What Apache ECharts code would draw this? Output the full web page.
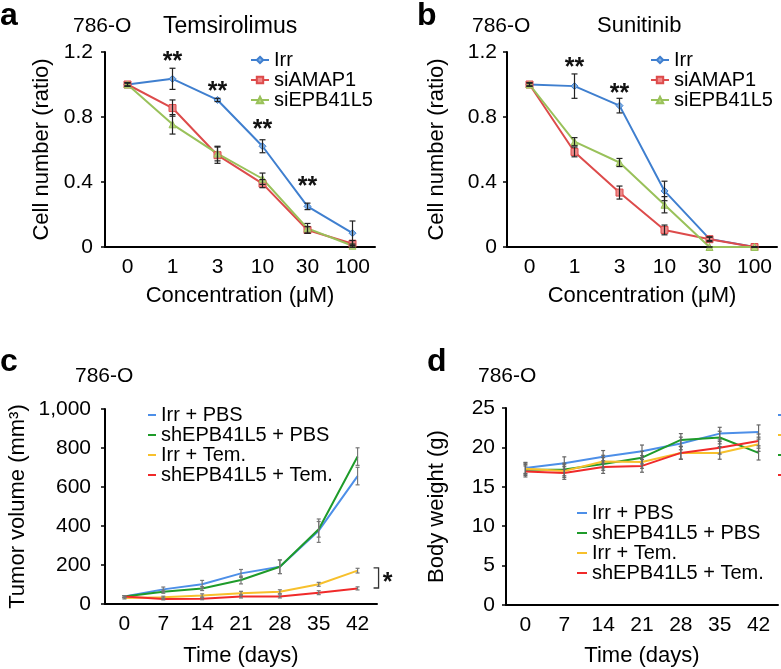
<!DOCTYPE html>
<html>
<head>
<meta charset="utf-8">
<script src="https://cdn.jsdelivr.net/npm/echarts@6/dist/echarts.min.js"></script>
<style>
    html, body { margin: 0; padding: 0; background: #fff; }
    #main { width: 781px; height: 669px; }
</style>
</head>
<body>
<div id="main"></div>
<script>
const concentrations = ['0', '1', '3', '10', '30', '100']
const days = ['0', '7', '14', '21', '28', '35', '42']

// a: Temsirolimus
const temIrr = [1.0, 1.035, 0.905, 0.62, 0.25, 0.085]
const temIrrErr = [0.01, 0.065, 0.01, 0.04, 0.02, 0.075]
const temAmap = [1.0, 0.855, 0.565, 0.39, 0.105, 0.02]
const temAmapErr = [0.01, 0.05, 0.05, 0.025, 0.02, 0.02]
const temEpb = [1.0, 0.755, 0.575, 0.42, 0.115, 0.008]
const temEpbErr = [0.01, 0.06, 0.045, 0.035, 0.03, 0.01]
const temStars = [[1, 1.17], [2, 0.985], [3, 0.75], [4, 0.40]]

// b: Sunitinib
const sunIrr = [1.0, 0.99, 0.87, 0.345, 0.05, 0.0]
const sunIrrErr = [0.01, 0.075, 0.045, 0.06, 0.01, 0.0]
const sunAmap = [1.0, 0.585, 0.335, 0.105, 0.048, 0.0]
const sunAmapErr = [0.01, 0.03, 0.04, 0.03, 0.015, 0.0]
const sunEpb = [1.0, 0.648, 0.52, 0.26, 0.0, 0.0]
const sunEpbErr = [0.01, 0.025, 0.025, 0.05, 0.0, 0.0]
const sunStars = [[1, 1.13], [2, 0.97]]

// c: tumor volume
const volIrrPbs = [38, 75, 101, 157, 191, 376, 656]
const volIrrPbsErr = [5, 12, 20, 20, 35, 60, 45]
const volShPbs = [38, 63, 79, 123, 191, 383, 756]
const volShPbsErr = [5, 8, 10, 20, 35, 40, 45]
const volIrrTem = [31, 34, 44, 55, 63, 101, 171]
const volIrrTemErr = [5, 6, 8, 10, 10, 10, 12]
const volShTem = [38, 26, 27, 39, 39, 58, 80]
const volShTemErr = [5, 5, 5, 8, 8, 10, 8]
const volBracket = [[6, 185, 82]]

// d: body weight
const wtIrrPbs = [17.4, 18.0, 18.8, 19.5, 20.5, 21.75, 21.95]
const wtShPbs = [17.15, 17.2, 17.9, 18.7, 20.95, 21.25, 19.3]
const wtIrrTem = [17.3, 17.0, 18.2, 18.15, 19.3, 19.3, 20.4]
const wtShTem = [16.95, 16.75, 17.5, 17.65, 19.3, 19.95, 20.8]
const wtErr = [0.7, 0.8, 0.8, 0.8, 0.8, 0.8, 0.9]

const FONT = 'Liberation Sans, Arial, Helvetica, sans-serif'
const colA = { irr: '#3f7fcf', amap: '#dd4b4b', epb: '#99c15a' }
const fillA = { irr: '#7fb0e6', amap: '#f08a8a', epb: '#b9d77c' }
const colC = { irrPbs: '#4d8fe8', shPbs: '#1e9b2a', irrTem: '#f7c02c', shTem: '#f02a2a' }

var myChart = echarts.init(document.getElementById('main'))

function catAxis(grid, data, name, gap) {
    return {
        type: 'category', gridIndex: grid, data: data, boundaryGap: true,
        axisLine: { lineStyle: { color: '#000', width: 2 } },
        axisTick: { show: false },
        axisLabel: { fontSize: 21, color: '#000', fontFamily: FONT, margin: 10, interval: 0 },
        name: name, nameLocation: 'middle', nameGap: gap,
        nameTextStyle: { fontSize: 22, color: '#000', fontFamily: FONT }
    }
}

function valAxis(grid, max, interval, name, gap, margin, fmt) {
    return {
        type: 'value', gridIndex: grid, min: 0, max: max, interval: interval,
        axisLine: { show: true, lineStyle: { color: '#000', width: 2 } },
        axisTick: { show: true, length: 4, lineStyle: { color: '#000', width: 1.5 } },
        splitLine: { show: false },
        axisLabel: { fontSize: 21, color: '#000', fontFamily: FONT, margin: margin, formatter: fmt },
        name: name, nameLocation: 'middle', nameGap: gap,
        nameTextStyle: { fontSize: 22, color: '#000', fontFamily: FONT }
    }
}

function markLine(grid, name, data, color, fill, symbol) {
    return {
        type: 'line', name: name, xAxisIndex: grid, yAxisIndex: grid, data: data,
        symbol: symbol, symbolSize: 7, showSymbol: true,
        lineStyle: { color: color, width: 2 },
        itemStyle: { color: fill, borderColor: color, borderWidth: 1 },
        z: 3, silent: true
    }
}

function plainLine(grid, name, data, color) {
    return {
        type: 'line', name: name, xAxisIndex: grid, yAxisIndex: grid, data: data,
        symbol: 'none', lineStyle: { color: color, width: 2 },
        itemStyle: { color: color }, z: 3, silent: true
    }
}

function errorBars(grid, means, errs, cap, color) {
    return {
        type: 'custom', xAxisIndex: grid, yAxisIndex: grid, z: 5, silent: true,
        data: means.map((m, i) => [i, m - errs[i], m + errs[i]]),
        renderItem: (params, api) => {
            const lo = api.coord([api.value(0), api.value(1)])
            const hi = api.coord([api.value(0), api.value(2)])
            const s = { stroke: color, lineWidth: 1.2 }
            return {
                type: 'group', children: [
                    { type: 'line', shape: { x1: lo[0], y1: lo[1], x2: hi[0], y2: hi[1] }, style: s },
                    { type: 'line', shape: { x1: lo[0] - cap, y1: lo[1], x2: lo[0] + cap, y2: lo[1] }, style: s },
                    { type: 'line', shape: { x1: hi[0] - cap, y1: hi[1], x2: hi[0] + cap, y2: hi[1] }, style: s }
                ]
            }
        }
    }
}

function stars(grid, data) {
    return {
        type: 'custom', xAxisIndex: grid, yAxisIndex: grid, z: 6, silent: true, data: data,
        renderItem: (params, api) => {
            const p = api.coord([api.value(0), api.value(1)])
            return {
                type: 'text', x: p[0], y: p[1] + 5,
                style: { text: '**', fontSize: 25, fontWeight: 'bold', fontFamily: FONT, fill: '#111', align: 'center', verticalAlign: 'middle' }
            }
        }
    }
}

function bracket(grid, data) {
    return {
        type: 'custom', xAxisIndex: grid, yAxisIndex: grid, z: 6, silent: true, data: data,
        renderItem: (params, api) => {
            const top = api.coord([api.value(0), api.value(1)])
            const bot = api.coord([api.value(0), api.value(2)])
            const x = top[0] + 21
            const s = { stroke: '#333', lineWidth: 1.3, fill: null }
            return {
                type: 'group', children: [
                    { type: 'polyline', shape: { points: [[x - 5, top[1]], [x, top[1]], [x, bot[1]], [x - 5, bot[1]]] }, style: s },
                    { type: 'text', x: x + 9, y: (top[1] + bot[1]) / 2 + 5,
                      style: { text: '*', fontSize: 25, fontWeight: 'bold', fontFamily: FONT, fill: '#111', align: 'center', verticalAlign: 'middle' } }
                ]
            }
        }
    }
}

function legendBox(names, left, top, iw, lh, extra) {
    return Object.assign({
        data: names, left: left, top: top, orient: 'vertical',
        itemGap: 0, itemWidth: iw, itemHeight: 8, selectedMode: false,
        textStyle: { fontSize: 20, color: '#000', fontFamily: FONT, lineHeight: lh }
    }, extra || {})
}

function label(text, left, top, size, bold) {
    return {
        text: text, left: left, top: top, padding: 0,
        textStyle: { fontSize: size, fontWeight: bold ? 'bold' : 'normal', color: '#000', fontFamily: FONT }
    }
}

const namesA = ['Irr', 'siAMAP1', 'siEPB41L5']
const namesC = ['Irr + PBS', 'shEPB41L5 + PBS', 'Irr + Tem.', 'shEPB41L5 + Tem.']
const dashIcon = { icon: 'rect', itemHeight: 2 }

const option = {
    animation: false,
    title: [
        label('a', 0, 0, 32, true),
        label('786-O', 73, 16, 21),
        label('Temsirolimus', 163, 15, 23),
        label('b', 417, 0, 32, true),
        label('786-O', 472, 16, 21),
        label('Sunitinib', 597, 15, 22),
        label('c', 0, 346, 32, true),
        label('786-O', 75, 366, 21),
        label('d', 427, 346, 32, true),
        label('786-O', 478, 366, 21)
    ],
    legend: [
        legendBox(namesA, 245, 45, 18, 19.5),
        legendBox(namesA, 645, 45, 18, 19.5),
        legendBox(namesC, 143, 400, 8, 17.7, dashIcon),
        legendBox(namesC, 572, 498, 10, 17.7, dashIcon),
        legendBox(['Irr + PBS', 'Irr + Tem.', 'shEPB41L5 + PBS', 'shEPB41L5 + Tem.'], 773, 400, 10, 19, dashIcon)
    ],
    grid: [
        { left: 105, top: 52, width: 270, height: 195 },
        { left: 507, top: 52, width: 270, height: 195 },
        { left: 105, top: 409, width: 272, height: 195 },
        { left: 506, top: 408, width: 272, height: 197 }
    ],
    xAxis: [
        catAxis(0, concentrations, 'Concentration (\u03bcM)', 38),
        catAxis(1, concentrations, 'Concentration (\u03bcM)', 38),
        catAxis(2, days, 'Time (days)', 41),
        catAxis(3, days, 'Time (days)', 40)
    ],
    yAxis: [
        valAxis(0, 1.2, 0.4, 'Cell number (ratio)', 52, 12),
        valAxis(1, 1.2, 0.4, 'Cell number (ratio)', 59, 10),
        valAxis(2, 1000, 200, 'Tumor volume (mm\u00b3)', 76, 14, v => v.toLocaleString('en-US')),
        valAxis(3, 25, 5, 'Body weight (g)', 58, 11)
    ],
    series: [
        markLine(0, 'Irr', temIrr, colA.irr, fillA.irr, 'diamond'),
        markLine(0, 'siAMAP1', temAmap, colA.amap, fillA.amap, 'rect'),
        markLine(0, 'siEPB41L5', temEpb, colA.epb, fillA.epb, 'triangle'),
        errorBars(0, temIrr, temIrrErr, 3, '#222'),
        errorBars(0, temAmap, temAmapErr, 3, '#222'),
        errorBars(0, temEpb, temEpbErr, 3, '#222'),
        stars(0, temStars),

        markLine(1, 'Irr', sunIrr, colA.irr, fillA.irr, 'diamond'),
        markLine(1, 'siAMAP1', sunAmap, colA.amap, fillA.amap, 'rect'),
        markLine(1, 'siEPB41L5', sunEpb, colA.epb, fillA.epb, 'triangle'),
        errorBars(1, sunIrr, sunIrrErr, 3, '#222'),
        errorBars(1, sunAmap, sunAmapErr, 3, '#222'),
        errorBars(1, sunEpb, sunEpbErr, 3, '#222'),
        stars(1, sunStars),

        plainLine(2, 'Irr + PBS', volIrrPbs, colC.irrPbs),
        plainLine(2, 'shEPB41L5 + PBS', volShPbs, colC.shPbs),
        plainLine(2, 'Irr + Tem.', volIrrTem, colC.irrTem),
        plainLine(2, 'shEPB41L5 + Tem.', volShTem, colC.shTem),
        errorBars(2, volIrrPbs, volIrrPbsErr, 2, '#777'),
        errorBars(2, volShPbs, volShPbsErr, 2, '#777'),
        errorBars(2, volIrrTem, volIrrTemErr, 2, '#777'),
        errorBars(2, volShTem, volShTemErr, 2, '#777'),
        bracket(2, volBracket),

        plainLine(3, 'Irr + PBS', wtIrrPbs, colC.irrPbs),
        plainLine(3, 'shEPB41L5 + PBS', wtShPbs, colC.shPbs),
        plainLine(3, 'Irr + Tem.', wtIrrTem, colC.irrTem),
        plainLine(3, 'shEPB41L5 + Tem.', wtShTem, colC.shTem),
        errorBars(3, wtIrrPbs, wtErr, 2, '#666'),
        errorBars(3, wtShPbs, wtErr, 2, '#666'),
        errorBars(3, wtIrrTem, wtErr, 2, '#666'),
        errorBars(3, wtShTem, wtErr, 2, '#666')
    ]
}
myChart.setOption(option)
</script>
</body>
</html>
